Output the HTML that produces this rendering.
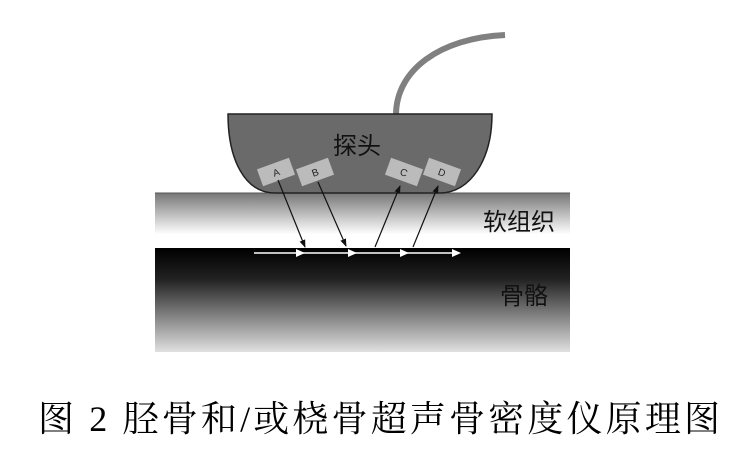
<!DOCTYPE html>
<html><head><meta charset="utf-8"><style>
body{margin:0;background:#fff;width:735px;height:455px;overflow:hidden}
svg{display:block}
</style></head><body>
<svg width="735" height="455" viewBox="0 0 735 455">
<defs>
<linearGradient id="st" x1="0" y1="0" x2="0" y2="1">
<stop offset="0" stop-color="#777"/><stop offset="0.75" stop-color="#fff"/><stop offset="1" stop-color="#fff"/></linearGradient>
<linearGradient id="bn" x1="0" y1="0" x2="0" y2="1">
<stop offset="0" stop-color="#000"/><stop offset="0.3" stop-color="#222"/><stop offset="1" stop-color="#e0e0e0"/></linearGradient>
<marker id="ah" markerWidth="8" markerHeight="8" refX="7" refY="4" orient="auto" markerUnits="userSpaceOnUse"><path d="M0,1 L8,4 L0,7 Z" fill="#111"/></marker>
</defs>
<rect x="155" y="193" width="415" height="55" fill="url(#st)"/>
<line x1="155" y1="193" x2="570" y2="193" stroke="#555" stroke-width="1"/>
<rect x="155" y="248" width="415" height="104" fill="url(#bn)"/>
<path d="M396,115 C396,70 440,38 505,35" fill="none" stroke="#808080" stroke-width="6"/>
<path d="M228,114 L492,114 C492,160 470,193 440,193 L275,193 C245,193 228,160 228,114 Z" fill="#6a6a6a" stroke="#222" stroke-width="1.5"/>
<text x="357" y="154" font-family="'Noto Sans CJK SC',sans-serif" font-size="24" text-anchor="middle" fill="#111">探头</text>
<g font-family="'Liberation Sans',sans-serif" font-size="10" fill="#222" text-anchor="middle">
<g transform="translate(276,172) rotate(-20)"><rect x="-17" y="-9" width="34" height="18" fill="#bbb"/><text y="4">A</text></g>
<g transform="translate(315,172) rotate(-20)"><rect x="-17" y="-9" width="34" height="18" fill="#bbb"/><text y="4">B</text></g>
<g transform="translate(404,172) rotate(20)"><rect x="-17" y="-9" width="34" height="18" fill="#bbb"/><text y="4">C</text></g>
<g transform="translate(442,172) rotate(20)"><rect x="-17" y="-9" width="34" height="18" fill="#bbb"/><text y="4">D</text></g>
</g>
<g stroke="#111" stroke-width="1.2">
<line x1="278" y1="180" x2="305" y2="247" marker-end="url(#ah)"/>
<line x1="318" y1="182" x2="346" y2="246" marker-end="url(#ah)"/>
<line x1="375" y1="247" x2="400" y2="186" marker-end="url(#ah)"/>
<line x1="413" y1="247" x2="438" y2="186" marker-end="url(#ah)"/>
</g>
<line x1="254" y1="253" x2="456" y2="253" stroke="#fff" stroke-width="1.5"/>
<g fill="#fff">
<path d="M296,249 L305,253 L296,257Z"/><path d="M348,249 L357,253 L348,257Z"/>
<path d="M400,249 L409,253 L400,257Z"/><path d="M452,249 L461,253 L452,257Z"/>
</g>
<text x="519" y="230" font-family="'Noto Sans CJK SC',sans-serif" font-size="24" text-anchor="middle" fill="#111">软组织</text>
<text x="524" y="304" font-family="'Noto Sans CJK SC',sans-serif" font-size="24" text-anchor="middle" fill="#111">骨骼</text>
<text x="38" y="431" font-family="'Liberation Serif','Noto Serif CJK SC',serif" font-size="36" textLength="682" lengthAdjust="spacing" fill="#000">图 2 胫骨和/或桡骨超声骨密度仪原理图</text>
</svg>
</body></html>
